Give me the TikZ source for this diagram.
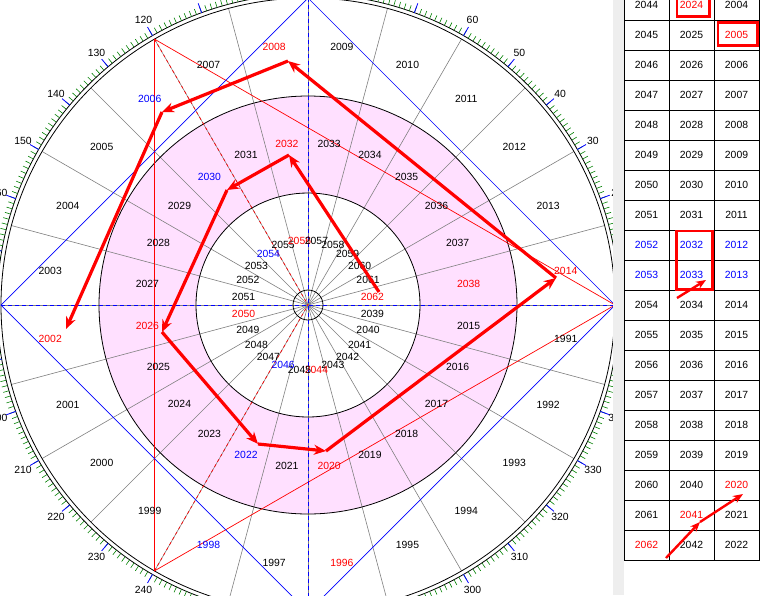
\documentclass[tikz,border=0pt]{standalone}
\usepackage{fontspec}
\setmainfont{Liberation Sans}
\usetikzlibrary{arrows.meta}
\definecolor{pinkfill}{RGB}{255,224,255}
\definecolor{tickgreen}{RGB}{0,128,0}
\definecolor{stripgray}{RGB}{238,238,238}
\definecolor{linegray}{RGB}{128,128,128}
\tikzset{
  lbl/.style={font=\fontsize{10.4}{12}\selectfont, inner sep=0pt},
  radial/.style={draw=linegray, line width=0.6pt},
  ring/.style={draw=black, line width=0.8pt},
  triline/.style={draw=red, line width=0.7pt},
  tridash/.style={draw=red, line width=0.7pt, dash pattern=on 3pt off 3pt},
  sqline/.style={draw=blue, line width=0.7pt},
  axisdash/.style={draw=blue, line width=0.8pt, dash pattern=on 4pt off 3pt},
  mintick/.style={draw=tickgreen, line width=0.6pt},
  majtick/.style={draw=blue, line width=0.8pt},
  bigarrow/.style={draw=red, line width=3.2pt, -{Stealth[length=12pt,width=10pt]}},
  smallarrow/.style={draw=red, line width=2.4pt, -{Stealth[length=10pt,width=8pt]}},
  cell/.style={lbl, draw=black, line width=0.8pt, minimum width=45pt, minimum height=30pt},
  redbox/.style={draw=red, line width=2.5pt},
}
\begin{document}
\begin{tikzpicture}[x=1pt,y=-1pt]
\useasboundingbox (0,0) rectangle (760,595);
\fill[white] (0,0) rectangle (760,595);
\begin{scope}
\clip (0,0) rectangle (613,595);
\begin{scope}[shift={(308,305)},yscale=-1]
  \fill[pinkfill, even odd rule] (0,0) circle (209) (0,0) circle (112);
  \foreach \a in {0,15,...,345} \draw[radial] (0,0) -- (\a:307);
  \draw[ring] (0,0) circle (15);
  \draw[ring] (0,0) circle (112);
  \draw[ring] (0,0) circle (209);
  \draw[ring] (0,0) circle (307);
  \draw[ring] (0,0) circle (311);
  \foreach \a in {0,...,359} \draw[mintick] (\a:311) -- (\a:317);
  \foreach \a in {0,10,...,350} \draw[majtick] (\a:311) -- (\a:321);
  \foreach \a in {20,30,40,50,60,70,110,120,130,140,150,160,200,210,220,230,240,300,310,320,330,340}
    \node[lbl] (dial\a) at (\a:329) {\a};
  % triangle
  \draw[triline] (120:307) -- (240:307) -- (0:307) -- cycle;
  \draw[tridash] (120:307) -- (0,0);
  \draw[tridash] (240:307) -- (0,0);
  % square and axes
  \draw[sqline] (0:307) -- (90:307) -- (180:307) -- (270:307) -- cycle;
  \draw[axisdash] (180:307) -- (0:307);
  \draw[axisdash] (90:307) -- (270:307);
  % labels
  \foreach \y/\c [count=\k from 0] in {1991/black,1992/black,1993/black,1994/black,1995/black,1996/red,1997/black,1998/blue,1999/black,2000/black,2001/black,2002/red,2003/black,2004/black,2005/black,2006/blue,2007/black,2008/red,2009/black,2010/black,2011/black,2012/black,2013/black,2014/red}
    \node[lbl, text=\c] (o\y) at ({-7.5-15*\k}:260) {\y};
  \foreach \y/\c [count=\k from 0] in {2015/black,2016/black,2017/black,2018/black,2019/black,2020/red,2021/black,2022/blue,2023/black,2024/black,2025/black,2026/red,2027/black,2028/black,2029/black,2030/blue,2031/black,2032/red,2033/black,2034/black,2035/black,2036/black,2037/black,2038/red}
    \node[lbl, text=\c] (m\y) at ({-7.5-15*\k}:162) {\y};
  \foreach \y/\c [count=\k from 0] in {2039/black,2040/black,2041/black,2042/black,2043/black,2044/red,2045/black,2046/blue,2047/black,2048/black,2049/black,2050/red,2051/black,2052/black,2053/black,2054/blue,2055/black,2056/red,2057/black,2058/black,2059/black,2060/black,2061/black,2062/red}
    \node[lbl, text=\c] (i\y) at ({-7.5-15*\k}:65) {\y};
\end{scope}
% thick arrows
\coordinate (p0) at (379,292);
\coordinate (p1) at (289,155);
\coordinate (p2) at (227,190);
\coordinate (p3) at (162,332);
\coordinate (p4) at (258,444);
\coordinate (p5) at (326,451);
\coordinate (p6) at (556,278);
\coordinate (p7) at (288,61);
\coordinate (p8) at (162,112);
\coordinate (p9) at (66,329);
\draw[bigarrow] (p0) -- (p1);
\draw[bigarrow] (p1) -- (p2);
\draw[bigarrow] (p2) -- (p3);
\draw[bigarrow] (p3) -- (p4);
\draw[bigarrow] (p4) -- (p5);
\draw[bigarrow] (p5) -- (p6);
\draw[bigarrow] (p6) -- (p7);
\draw[bigarrow] (p7) -- (p8);
\draw[bigarrow] (p8) -- (p9);
\end{scope}
% strip
\fill[stripgray] (613,0) rectangle (624,595);
% table
\foreach \r in {0,...,18}{
  \foreach \col/\base/\cx in {1/2044/646.5,2/2024/691.5,3/2004/736.5}{
    \pgfmathtruncatemacro\yr{\base+\r}
    \def\cc{black}
    \ifnum\yr=2024 \def\cc{red}\fi
    \ifnum\yr=2005 \def\cc{red}\fi
    \ifnum\yr=2020 \def\cc{red}\fi
    \ifnum\yr=2041 \def\cc{red}\fi
    \ifnum\yr=2062 \def\cc{red}\fi
    \ifnum\yr=2052 \def\cc{blue}\fi
    \ifnum\yr=2032 \def\cc{blue}\fi
    \ifnum\yr=2012 \def\cc{blue}\fi
    \ifnum\yr=2053 \def\cc{blue}\fi
    \ifnum\yr=2033 \def\cc{blue}\fi
    \ifnum\yr=2013 \def\cc{blue}\fi
    \node[cell, text=\cc] (t\yr) at (\cx,{5+30*\r}) {\yr};
  }
}
\draw[redbox] (677,-8) rectangle (709.5,16.5);
\draw[redbox] (718,22.5) rectangle (757.5,45.5);
\draw[redbox] (676.5,231) rectangle (712.5,289.5);
\coordinate (q0) at (677,298);
\coordinate (q1) at (706,280);
\coordinate (q2) at (666,558);
\coordinate (q3) at (700,522);
\coordinate (q4) at (743,494);
\draw[smallarrow] (q0) -- (q1);
\draw[smallarrow] (q2) -- (q3);
\draw[smallarrow] (q3) -- (q4);
\end{tikzpicture}
\end{document}
